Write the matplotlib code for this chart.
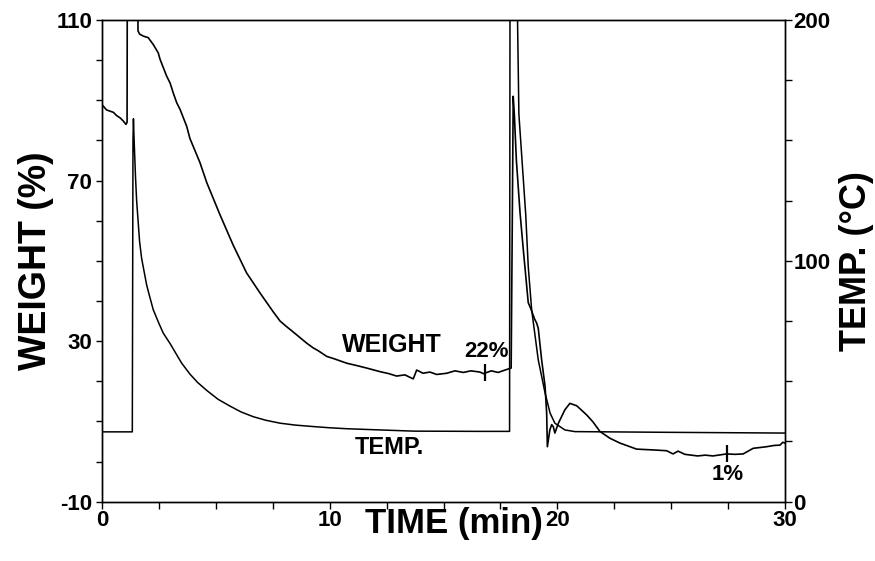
import matplotlib
matplotlib.use("Agg")
import matplotlib.pyplot as plt

plt.rcParams['font.family'] = ['Liberation Sans', 'DejaVu Sans']
plt.rcParams['font.weight'] = 'bold'
plt.rcParams['axes.unicode_minus'] = False

# weight trace (left axis, %)
weight_t = [0.0, 0.2, 0.35, 0.5, 0.64, 0.8, 0.94, 1.05, 1.10, 1.11, 1.57, 1.58,
            1.65, 1.81, 2.03, 2.25, 2.47, 2.55, 2.84, 2.99, 3.13, 3.28, 3.43,
            3.72, 3.86, 4.30, 4.60, 5.18, 5.77, 6.35, 6.94, 7.52, 7.82, 8.11,
            8.5, 8.99, 9.28, 9.5, 9.87, 10.2, 10.75, 11.2, 11.62, 12.21, 12.6,
            12.94, 13.3, 13.67, 13.82, 14.1, 14.4, 14.7, 15.14, 15.5, 15.87,
            16.2, 16.6, 16.75, 17.1, 17.4, 17.7, 17.97, 18.02, 18.06, 18.11,
            18.2, 18.36, 18.5, 18.72, 18.84, 19.0, 19.09, 19.16, 19.31, 19.46,
            19.53, 19.56, 19.67, 19.75, 19.82, 19.89, 20.04, 20.33, 20.55,
            20.85, 21.29, 21.56, 21.87, 22.31, 22.75, 23.48, 24.2, 24.8, 25.08,
            25.3, 25.6, 26.16, 26.5, 26.83, 27.43, 27.8, 28.16, 28.6, 28.9,
            29.19, 29.5, 29.78, 29.9, 30.0]
weight_pct = [88.9, 87.6, 87.3, 87.0, 86.2, 85.6, 84.8, 84.0, 84.5, 118, 118, 107.3,
              106.5, 106.0, 105.6, 103.9, 101.8, 100.2, 96.0, 94.3, 91.8, 89.4, 87.7,
              83.5, 80.5, 74.5, 69.5, 61.5, 53.8, 47.0, 42.0, 37.3, 35.0, 33.6,
              31.8, 29.5, 28.3, 27.6, 26.2, 25.6, 24.5, 23.9, 23.3, 22.4, 21.9,
              21.3, 21.6, 20.6, 22.8, 22.0, 22.3, 21.7, 22.0, 22.6, 22.2,
              22.6, 22.3, 21.9, 22.6, 22.2, 22.8, 23.3, 60.0, 91.0, 86.4,
              75.0, 62.0, 53.0, 39.6, 38.0, 35.5, 34.5, 33.2, 25.3, 18.7,
              12.0, 3.7, 7.9, 9.2, 8.7, 7.1, 9.5, 12.9, 14.5,
              13.9, 11.6, 9.9, 7.5, 5.8, 4.6, 3.1, 2.9, 2.7, 1.9,
              2.6, 1.8, 1.4, 1.6, 1.4, 1.9, 1.8, 1.9, 3.3, 3.5,
              3.7, 4.0, 4.1, 4.8, 4.6]

# temperature trace (right axis, degC)
temp_t = [0.0, 1.33, 1.36, 1.38, 1.41, 1.47, 1.52, 1.65, 1.74, 1.96, 2.07, 2.25,
          2.5, 2.69, 3.0, 3.28, 3.5, 3.86, 4.2, 4.6, 5.1, 5.62, 6.1, 6.64, 7.2,
          7.82, 8.5, 9.28, 10.0, 10.75, 12.2, 13.7, 16.6, 17.9, 17.92, 18.22,
          18.25, 18.31, 18.61, 18.72, 18.87, 19.16, 19.46, 19.68, 19.89, 20.33,
          20.77, 25.0, 30.0]
temp_c = [29.0, 29.0, 150, 159, 150, 135, 125, 108, 101, 90, 86, 79.7,
          74, 70, 65.5, 61, 57.5, 53, 49.5, 46.2, 42.5, 39.7, 37.3, 35.3, 33.8,
          32.6, 31.8, 31.2, 30.7, 30.3, 29.8, 29.3, 29.2, 29.2, 215, 215,
          200, 160.8, 119.2, 97.7, 79.7, 58.9, 45.1, 36.8, 32.6, 29.8,
          29.1, 28.8, 28.5]

# hand marks on the weight trace and their labels
mark_t = [16.82, 27.43]
mark_lo = [20.0, -0.2]
mark_hi = [24.2, 4.1]
mark_text = ['22%', '1%']
mark_text_t = [16.9, 27.5]
mark_text_w = [27.3, -3.1]

fig = plt.figure(figsize=(8.75, 5.61), dpi=100)
ax = fig.add_axes([0.1166, 0.1057, 0.7806, 0.8586])
ax2 = ax.twinx()

ax.plot(weight_t, weight_pct, color='black', lw=1.2)
ax2.plot(temp_t, temp_c, color='black', lw=1.1)
ax.vlines(mark_t, mark_lo, mark_hi, color='black', lw=1.6)

for t, w, s in zip(mark_text_t, mark_text_w, mark_text):
    ax.text(t, w, s, ha='center', va='center', fontsize=16, fontweight='bold')
ax.text(12.72, 29.1, 'WEIGHT', ha='center', va='center', fontsize=18, fontweight='bold')
ax.text(12.6, 3.6, 'TEMP.', ha='center', va='center', fontsize=17, fontweight='bold')

ax.set_xlim(0, 30)
ax.set_ylim(-10, 110)
ax2.set_ylim(0, 200)

ax.set_xticks([0, 10, 20, 30])
ax.set_xticks([2.5 * i for i in range(13)], minor=True)
ax.set_yticks([-10, 30, 70, 110])
ax.set_yticks(list(range(-10, 111, 10)), minor=True)
ax2.set_yticks([0, 100, 200])
ax2.set_yticks(list(range(0, 201, 25)), minor=True)

ax.tick_params(axis='x', which='both', direction='out', length=5, width=1,
               labelsize=16, pad=1)
ax.tick_params(axis='y', which='both', direction='out', length=4, width=1,
               labelsize=16, pad=3)
ax2.tick_params(axis='y', which='both', direction='out', length=5, width=1,
                labelsize=16, pad=1)
for lab in ax.get_xticklabels() + ax.get_yticklabels() + ax2.get_yticklabels():
    lab.set_fontweight('bold')

for a in (ax, ax2):
    for sp in a.spines.values():
        sp.set_linewidth(1.0)

ax.set_xlabel('TIME (min)', fontsize=25, fontweight='bold')
ax.xaxis.set_label_coords(0.515, -0.012)
ax.set_ylabel('WEIGHT (%)', fontsize=27, fontweight='bold', labelpad=2)
ax2.set_ylabel('TEMP. (°C)', fontsize=26, fontweight='bold', labelpad=6)

fig.savefig('out.png', dpi=100)
